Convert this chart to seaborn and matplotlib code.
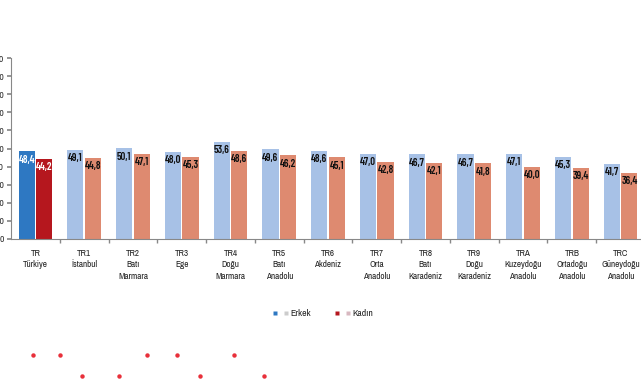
import matplotlib
matplotlib.use("Agg")
import matplotlib.pyplot as plt
from matplotlib.lines import Line2D
from matplotlib.legend_handler import HandlerTuple
import seaborn as sns
import pandas as pd
import numpy as np

regions = ["TR\nTürkiye", "TR1\nİstanbul", "TR2\nBatı\nMarmara", "TR3\nEge",
           "TR4\nDoğu\nMarmara", "TR5\nBatı\nAnadolu", "TR6\nAkdeniz",
           "TR7\nOrta\nAnadolu", "TR8\nBatı\nKaradeniz", "TR9\nDoğu\nKaradeniz",
           "TRA\nKuzeydoğu\nAnadolu", "TRB\nOrtadoğu\nAnadolu", "TRC\nGüneydoğu\nAnadolu"]
erkek = [48.4, 49.1, 50.1, 48.0, 53.6, 49.6, 48.6, 47.0, 46.7, 46.7, 47.1, 45.3, 41.7]
kadin = [44.2, 44.8, 47.1, 45.3, 48.6, 46.2, 45.1, 42.8, 42.1, 41.8, 40.0, 39.4, 36.4]
series = ["Erkek", "Kadın"]
yticks = list(range(0, 101, 10))

df = pd.DataFrame({
    "region": regions * 2,
    "value": erkek + kadin,
    "sex": [series[0]] * len(regions) + [series[1]] * len(regions),
})

sns.set_theme(style="white")
plt.rcParams["font.family"] = ["Archivo Narrow", "Liberation Sans", "DejaVu Sans"]

fig = plt.figure(figsize=(6.41, 3.80), dpi=100)
ax = fig.add_axes([11 / 641, (380 - 239) / 380, 634 / 641, (239 - 58) / 380])

light_blue = "#A7C1E6"
salmon = "#DE8A70"
strong_blue = "#2E78C2"
strong_red = "#B5171E"

sns.barplot(data=df, x="region", y="value", hue="sex", palette=[light_blue, salmon],
            width=0.72, gap=0.08, legend=False, ax=ax, saturation=1, linewidth=0)

# highlight Türkiye group
ax.containers[0][0].set_facecolor(strong_blue)
ax.containers[1][0].set_facecolor(strong_red)

for ci, cont in enumerate(ax.containers):
    for bi, p in enumerate(cont):
        h = p.get_height()
        col = "white" if bi == 0 else "#111111"
        ax.text(p.get_x() + p.get_width() / 2, h - 4.6, f"{h:.1f}".replace(".", ","),
                ha="center", va="center", fontsize=7.8, color=col, fontweight="semibold",
                family=["Barlow Condensed", "DejaVu Sans"])

ax.set_ylim(0, 100)
ax.set_xlim(-0.5, len(regions) - 0.5)
ax.set_yticks(yticks)
ax.set_yticklabels([str(v) for v in yticks], fontsize=7, color="#333333")
ax.set_xlabel("")
ax.set_ylabel("")
ax.tick_params(axis="x", which="major", length=0, labelsize=6.6, labelcolor="#222222", pad=7)
for lbl in ax.get_xticklabels():
    lbl.set_linespacing(1.35)
ax.set_xticks(np.arange(len(regions)) + 0.5, minor=True)
ax.tick_params(axis="x", which="minor", length=3, color="#888888", direction="out", bottom=True)
ax.tick_params(axis="y", length=3, color="#888888", direction="out", left=True, pad=2)
for s in ["top", "right"]:
    ax.spines[s].set_visible(False)
for s in ["left", "bottom"]:
    ax.spines[s].set_color("#888888")
    ax.spines[s].set_linewidth(0.8)
ax.grid(False)

h1 = (Line2D([], [], marker="s", color="none", markerfacecolor=strong_blue, markeredgecolor="none", markersize=3),
      Line2D([], [], marker="s", color="none", markerfacecolor="#cccccc", markeredgecolor="none", markersize=3))
h2 = (Line2D([], [], marker="s", color="none", markerfacecolor=strong_red, markeredgecolor="none", markersize=3),
      Line2D([], [], marker="s", color="none", markerfacecolor="#d8b8c0", markeredgecolor="none", markersize=3))
fig.legend([h1, h2], series, handler_map={tuple: HandlerTuple(ndivide=None, pad=0.6)},
           loc="center", bbox_to_anchor=(323 / 641, (380 - 314) / 380), ncol=2,
           frameon=False, fontsize=7, handlelength=1.6, handletextpad=0.2, columnspacing=2.5)

# decorative red dots at the bottom of the reference image
dots_top = [33, 60, 147, 177, 234]
dots_bottom = [82, 119, 200, 264]
for xs, yp in [(dots_top, 355), (dots_bottom, 376)]:
    fig.add_artist(Line2D([x / 641 for x in xs], [(380 - yp) / 380] * len(xs),
                          transform=fig.transFigure, linestyle="none", marker="o",
                          markersize=3.2, markerfacecolor="#E8303A", markeredgecolor="none"))

fig.savefig("out.png", dpi=100)
